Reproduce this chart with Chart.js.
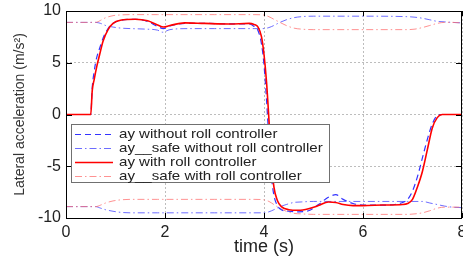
<!DOCTYPE html>
<html>
<head>
<meta charset="utf-8">
<script src="https://cdn.jsdelivr.net/npm/chart.js@4.4.1/dist/chart.umd.min.js"></script>
<style>
  html, body { margin: 0; padding: 0; background: #fff; }
  #c { display: block; }
</style>
</head>
<body>
<canvas id="c" width="463" height="256"></canvas>
<script>
// time axis for the two ay curves
const tAy = [0, 0.5, 0.53, 0.57, 0.62, 0.68, 0.75, 0.85, 0.95, 1.1, 1.4, 1.65, 1.85, 1.97, 2.1, 2.4, 2.8, 3.3, 3.7, 3.8, 3.88, 3.95, 4.0, 4.05, 4.1, 4.15, 4.2, 4.27, 4.35, 4.5, 4.7, 4.9, 5.1, 5.3, 5.45, 5.6, 5.8, 6.0, 6.4, 6.8, 6.9, 7.0, 7.1, 7.2, 7.3, 7.4, 7.5, 7.6, 8.0];
const ayWithout = [0, 0, 2.6, 4.2, 5.5, 6.4, 7.4, 8.3, 8.8, 9.1, 9.2, 9.0, 8.5, 8.3, 8.55, 8.8, 8.8, 8.75, 8.75, 8.5, 8.1, 6.8, 4.8, 1.5, -2.5, -6.0, -7.8, -8.8, -9.2, -9.35, -9.4, -9.3, -8.7, -8.0, -7.75, -8.2, -8.6, -8.75, -8.75, -8.5, -8.2, -7.4, -6.0, -4.2, -2.4, -0.9, -0.1, 0, 0];
const ayWith = [0, 0, 2.3, 3.4, 4.6, 5.8, 7.1, 8.2, 8.8, 9.1, 9.2, 9.05, 8.65, 8.45, 8.6, 8.85, 8.8, 8.75, 8.8, 8.7, 8.45, 7.5, 5.8, 3.2, -0.5, -4.5, -7.0, -8.3, -8.9, -9.2, -9.25, -9.1, -8.8, -8.45, -8.5, -8.7, -8.8, -8.8, -8.75, -8.7, -8.6, -8.2, -7.0, -5.5, -3.4, -1.3, -0.3, 0, 0];

// time axis for the safe limits (upper and lower branches)
const tSafe = [0, 0.6, 0.7, 0.8, 0.95, 1.1, 1.3, 1.6, 1.85, 1.95, 2.1, 2.5, 3.0, 3.8, 4.0, 4.1, 4.2, 4.3, 4.45, 4.6, 4.75, 5.0, 6.0, 6.9, 7.05, 7.2, 7.35, 7.5, 7.65, 7.8, 8.0];
const safeWithoutUp = [8.9, 8.9, 8.8, 8.6, 8.45, 8.35, 8.3, 8.25, 8.15, 7.95, 8.2, 8.3, 8.3, 8.3, 8.3, 8.4, 8.6, 8.85, 9.15, 9.35, 9.45, 9.5, 9.5, 9.45, 9.4, 9.3, 9.15, 9.0, 8.95, 8.9, 8.85];
const safeWithUp = [8.9, 8.9, 9.1, 9.35, 9.55, 9.62, 9.65, 9.65, 9.65, 9.65, 9.65, 9.65, 9.65, 9.65, 9.6, 9.45, 9.2, 8.95, 8.6, 8.35, 8.25, 8.2, 8.2, 8.2, 8.25, 8.4, 8.6, 8.8, 8.9, 8.9, 8.85];
const safeWithoutLow = [-8.9, -8.9, -9.05, -9.2, -9.35, -9.45, -9.5, -9.5, -9.5, -9.5, -9.5, -9.5, -9.5, -9.5, -9.5, -9.4, -9.2, -8.95, -8.7, -8.5, -8.45, -8.4, -8.4, -8.4, -8.4, -8.4, -8.55, -8.7, -8.85, -8.95, -9.0];
const safeWithLow = [-8.9, -8.9, -8.75, -8.55, -8.35, -8.25, -8.2, -8.2, -8.2, -8.2, -8.2, -8.2, -8.2, -8.2, -8.25, -8.4, -8.7, -9.0, -9.35, -9.55, -9.6, -9.65, -9.65, -9.65, -9.6, -9.5, -9.3, -9.05, -8.95, -8.95, -8.95];

const legendLabels = ["ay without roll controller", "ay__safe without roll controller", "ay with roll controller", "ay__safe with roll controller"];
const xTicks = [0, 2, 4, 6, 8];
const yTicks = [-10, -5, 0, 5, 10];

const FONT = "'Liberation Sans', Arial, sans-serif";

function pts(t, v){ return t.map((x, i) => ({x: x, y: v[i]})); }

const blue = "#3333ff";
const blueSafe = "rgba(60,60,255,0.75)";
const red = "#ff0000";
const pink = "rgba(255,110,110,0.75)";

function line(label, data, color, dash, width, order){
  return {
    label: label, data: data, borderColor: color, borderDash: dash,
    borderWidth: width, pointRadius: 0, fill: false, order: order,
    tension: 0.4, cubicInterpolationMode: "monotone"
  };
}

const datasets = [
  line(legendLabels[0], pts(tAy, ayWithout), blue, [6, 4], 1.2, 1),
  line(legendLabels[1], pts(tSafe, safeWithoutUp), blueSafe, [7, 3, 1.5, 3], 1, 3),
  line(legendLabels[2], pts(tAy, ayWith), red, [], 1.6, 0),
  line(legendLabels[3], pts(tSafe, safeWithUp), pink, [7, 3, 1.5, 3], 1, 2),
  line("", pts(tSafe, safeWithoutLow), blueSafe, [7, 3, 1.5, 3], 1, 3),
  line("", pts(tSafe, safeWithLow), pink, [7, 3, 1.5, 3], 1, 2)
];

// frame, inward ticks and the boxed legend inside the plot
const framePlugin = {
  id: "frame",
  afterDraw(chart){
    const ctx = chart.ctx;
    const a = chart.chartArea;
    const xs = chart.scales.x, ys = chart.scales.y;
    ctx.save();
    ctx.strokeStyle = "#000";
    ctx.lineWidth = 1;
    ctx.setLineDash([]);
    ctx.beginPath();
    for (const v of xTicks){
      const px = Math.round(xs.getPixelForValue(v)) + 0.5;
      ctx.moveTo(px, a.bottom); ctx.lineTo(px, a.bottom - 5);
      ctx.moveTo(px, a.top); ctx.lineTo(px, a.top + 5);
    }
    for (const v of yTicks){
      const py = Math.round(ys.getPixelForValue(v)) + 0.5;
      ctx.moveTo(a.left, py); ctx.lineTo(a.left + 6, py);
      ctx.moveTo(a.right, py); ctx.lineTo(a.right - 6, py);
    }
    ctx.stroke();
    ctx.strokeRect(Math.round(a.left) + 0.5, Math.round(a.top) + 0.5, Math.round(a.right - a.left) - 1, Math.round(a.bottom - a.top));

    // legend
    const lx = 71, ly = 124, lw = 258, lh = 58;
    ctx.fillStyle = "#fff";
    ctx.fillRect(lx, ly, lw, lh);
    ctx.strokeStyle = "#707070";
    ctx.strokeRect(lx + 0.5, ly + 0.5, lw, lh);
    ctx.font = "13px " + FONT;
    ctx.textBaseline = "middle";
    const stretch = 1.16;
    for (let i = 0; i < 4; i++){
      const ds = chart.data.datasets[i];
      const y = ly + 10 + i * 14.1;
      ctx.strokeStyle = ds.borderColor;
      ctx.lineWidth = ds.borderWidth;
      ctx.setLineDash(ds.borderDash);
      ctx.beginPath();
      ctx.moveTo(75, Math.round(y) + 0.5);
      ctx.lineTo(113, Math.round(y) + 0.5);
      ctx.stroke();
      ctx.setLineDash([]);
      ctx.fillStyle = "#222";
      ctx.save();
      ctx.scale(stretch, 1);
      ctx.fillText(ds.label, 119 / stretch, y);
      ctx.restore();
    }
    ctx.restore();
  }
};

new Chart(document.getElementById("c"), {
  type: "line",
  data: { datasets: datasets },
  options: {
    responsive: false,
    animation: false,
    devicePixelRatio: 1,
    layout: { padding: { top: 11, right: 1, left: 0, bottom: 0 } },
    plugins: { legend: { display: false }, tooltip: { enabled: false } },
    scales: {
      x: {
        type: "linear", min: 0, max: 8,
        afterBuildTicks(s){ s.ticks = xTicks.map(v => ({value: v})); },
        afterFit(s){ s.height = 38; s.paddingLeft = 0; s.paddingRight = 0; },
        ticks: { font: { size: 16, family: FONT }, color: "#222", padding: 5, maxRotation: 0 },
        grid: { color: "#bdbdbd", drawTicks: false, lineWidth: 1 },
        border: { display: false, dash: [2, 2] },
        title: { display: true, text: "time (s)", font: { size: 18, family: FONT, lineHeight: 1 }, color: "#222", padding: { top: 0, bottom: 0 } }
      },
      y: {
        min: -10, max: 10,
        afterBuildTicks(s){ s.ticks = yTicks.map(v => ({value: v})); },
        afterFit(s){ s.width = 66; s.paddingTop = 0; s.paddingBottom = 0; },
        ticks: { font: { size: 16, family: FONT }, color: "#222", padding: 5 },
        grid: { color: "#bdbdbd", drawTicks: false, lineWidth: 1 },
        border: { display: false, dash: [2, 2] },
        title: { display: true, text: "Lateral acceleration (m/s²)", font: { size: 14, family: FONT }, color: "#333", padding: { top: 12, bottom: 0 } }
      }
    }
  },
  plugins: [framePlugin]
});
</script>
</body>
</html>
